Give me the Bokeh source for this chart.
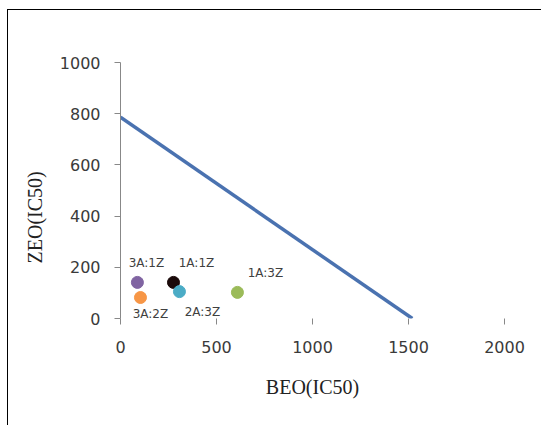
from bokeh.plotting import figure
from bokeh.models import Range1d, ColumnDataSource, LabelSet, FixedTicker, Title
from bokeh.core.properties import value
from bokeh.embed import file_html
from bokeh.resources import INLINE

# Isobologram data
line_x = [0, 1520]
line_y = [786, 0]

names = ["3A:1Z", "1A:1Z", "2A:3Z", "1A:3Z", "3A:2Z"]
beo = [88, 276, 307, 609, 104]
zeo = [141, 141, 105, 102, 82]
colors = ["#8064A2", "#1A0A0A", "#4BACC6", "#9BBB59", "#F79646"]

x_ticks = [0, 500, 1000, 1500, 2000]
y_ticks = [0, 200, 400, 600, 800, 1000]

# label offsets (screen px) – style only
dx = [9, 23, 23, 28, 10]
dy = [19, 19, -20, 19, -16]

p = figure(width=534, height=416, output_backend="svg", toolbar_location=None,
           x_range=Range1d(0, 2000), y_range=Range1d(0, 1000),
           min_border_left=112, min_border_right=38, min_border_top=52,
           min_border_bottom=108)
p.styles = {"position": "relative", "left": "8px", "top": "10px",
            "box-shadow": "-1px -1px 0px 0px #000000"}
p.outline_line_color = None
p.grid.visible = False
p.background_fill_color = "white"

p.line(line_x, line_y, line_color="#4A72B0", line_width=3.5)

src = ColumnDataSource(dict(x=beo, y=zeo, c=colors, t=names, dx=dx, dy=dy))
p.scatter("x", "y", source=src, size=12, fill_color="c", line_color="c")
p.add_layout(LabelSet(x="x", y="y", text="t", source=src, x_offset="dx", y_offset="dy",
                      text_align="center", text_baseline="middle",
                      text_font=value("DejaVu Sans"), text_font_size="12px",
                      text_color="#404040"))

for ax in (p.xaxis[0], p.yaxis[0]):
    ax.minor_tick_line_color = None
    ax.major_tick_in = 0
    ax.major_tick_out = 6
    ax.major_tick_line_color = "#888888"
    ax.major_label_text_font = "DejaVu Sans"
    ax.major_label_text_font_size = "16px"
    ax.major_label_text_color = "#3a3a3a"

p.xaxis.ticker = FixedTicker(ticks=x_ticks)
p.yaxis.ticker = FixedTicker(ticks=y_ticks)
p.xaxis.axis_line_color = None
p.yaxis.axis_line_color = "#888888"
p.xaxis.major_label_standoff = 16
p.yaxis.major_label_standoff = 14

p.xaxis.axis_label = "BEO(IC50)"
p.xaxis.axis_label_text_font = "Liberation Serif"
p.xaxis.axis_label_text_font_style = "normal"
p.xaxis.axis_label_text_font_size = "20px"
p.xaxis.axis_label_text_color = "#222222"
p.xaxis.axis_label_standoff = 20

p.add_layout(Title(text="ZEO(IC50)", align="left", offset=55, standoff=22,
                   text_font="Liberation Serif", text_font_size="20px",
                   text_font_style="normal", text_color="#222222"), "left")

open("out.html", "w").write(file_html(p, INLINE))
